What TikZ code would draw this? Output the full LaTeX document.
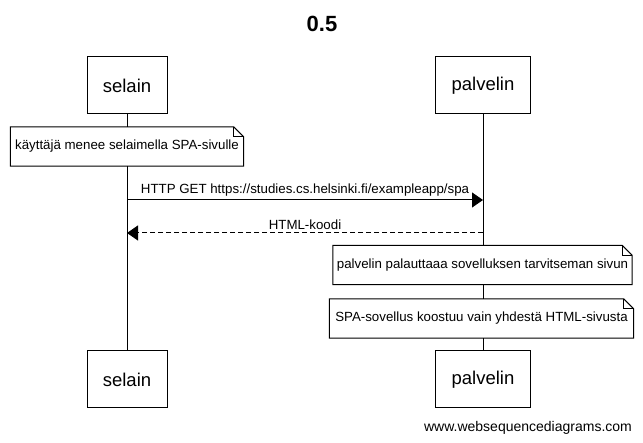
\documentclass[tikz,border=0pt]{standalone}
\usepackage{fontspec}
\setmainfont{Liberation Sans}
\usetikzlibrary{arrows.meta}
\tikzset{
  actor/.style={draw, fill=white, line width=1pt, minimum height=57pt, inner sep=0pt,
    font=\fontsize{18.5}{20}\selectfont},
  notebox/.style={fill=white, draw=none, minimum height=39pt, inner sep=0pt,
    font=\fontsize{13.3}{15}\selectfont},
  noteline/.style={draw, line width=1pt, line join=miter},
  foldline/.style={draw, line width=0.6pt},
  msg/.style={line width=1pt, -{Triangle[length=11pt,width=15pt]}},
  reply/.style={msg, dash pattern=on 5pt off 3pt},
  msglabel/.style={font=\fontsize{13.3}{15}\selectfont, inner sep=0pt, above=3pt},
  lifeline/.style={line width=1pt}
}
\begin{document}
\begin{tikzpicture}[x=1pt,y=-1pt]
\useasboundingbox[fill=white] (0,0) rectangle (643,443);
\node[font=\bfseries\fontsize{22}{24}\selectfont] (title) at (322,24) {0.5};
% actors
\node[actor, minimum width=80pt] (s1) at (127,85.5) {selain};
\node[actor, minimum width=95pt] (p1) at (483,85.5) {palvelin};
\node[actor, minimum width=80pt] (s2) at (127,379.5) {selain};
\node[actor, minimum width=95pt] (p2) at (483,379.5) {palvelin};
% lifelines
\draw[lifeline] (s1.south) -- (s2.north);
\draw[lifeline] (p1.south) -- (p2.north);
% notes
\node[notebox, minimum width=233pt] (n1) at (127,146.5) {käyttäjä menee selaimella SPA-sivulle};
\node[notebox, minimum width=299pt] (n2) at (482.5,265) {palvelin palauttaaa sovelluksen tarvitseman sivun};
\node[notebox, minimum width=304pt] (n3) at (481.5,318.5) {SPA-sovellus koostuu vain yhdestä HTML-sivusta};
\foreach \n in {n1,n2,n3}{
  \draw[noteline] (\n.south west) -- (\n.north west) -- ([xshift=-10pt]\n.north east)
     -- ([yshift=-10pt]\n.north east) -- (\n.south east) -- cycle;
  \draw[foldline] ([xshift=-10pt]\n.north east) -- ([xshift=-10pt,yshift=-10pt]\n.north east)
     -- ([yshift=-10pt]\n.north east);
}
% messages
\draw[msg] (s1.south |- 0,200) -- (p1.south |- 0,200)
  node[msglabel, midway] (l1) {HTTP GET https://studies.cs.helsinki.fi/exampleapp/spa};
\draw[reply] (p1.south |- 0,233) -- (s1.south |- 0,233)
  node[msglabel, midway] (l2) {HTML-koodi};
% watermark
\node[font=\fontsize{14}{16}\selectfont] (wm) at (528,428) {www.websequencediagrams.com};
\end{tikzpicture}
\end{document}
